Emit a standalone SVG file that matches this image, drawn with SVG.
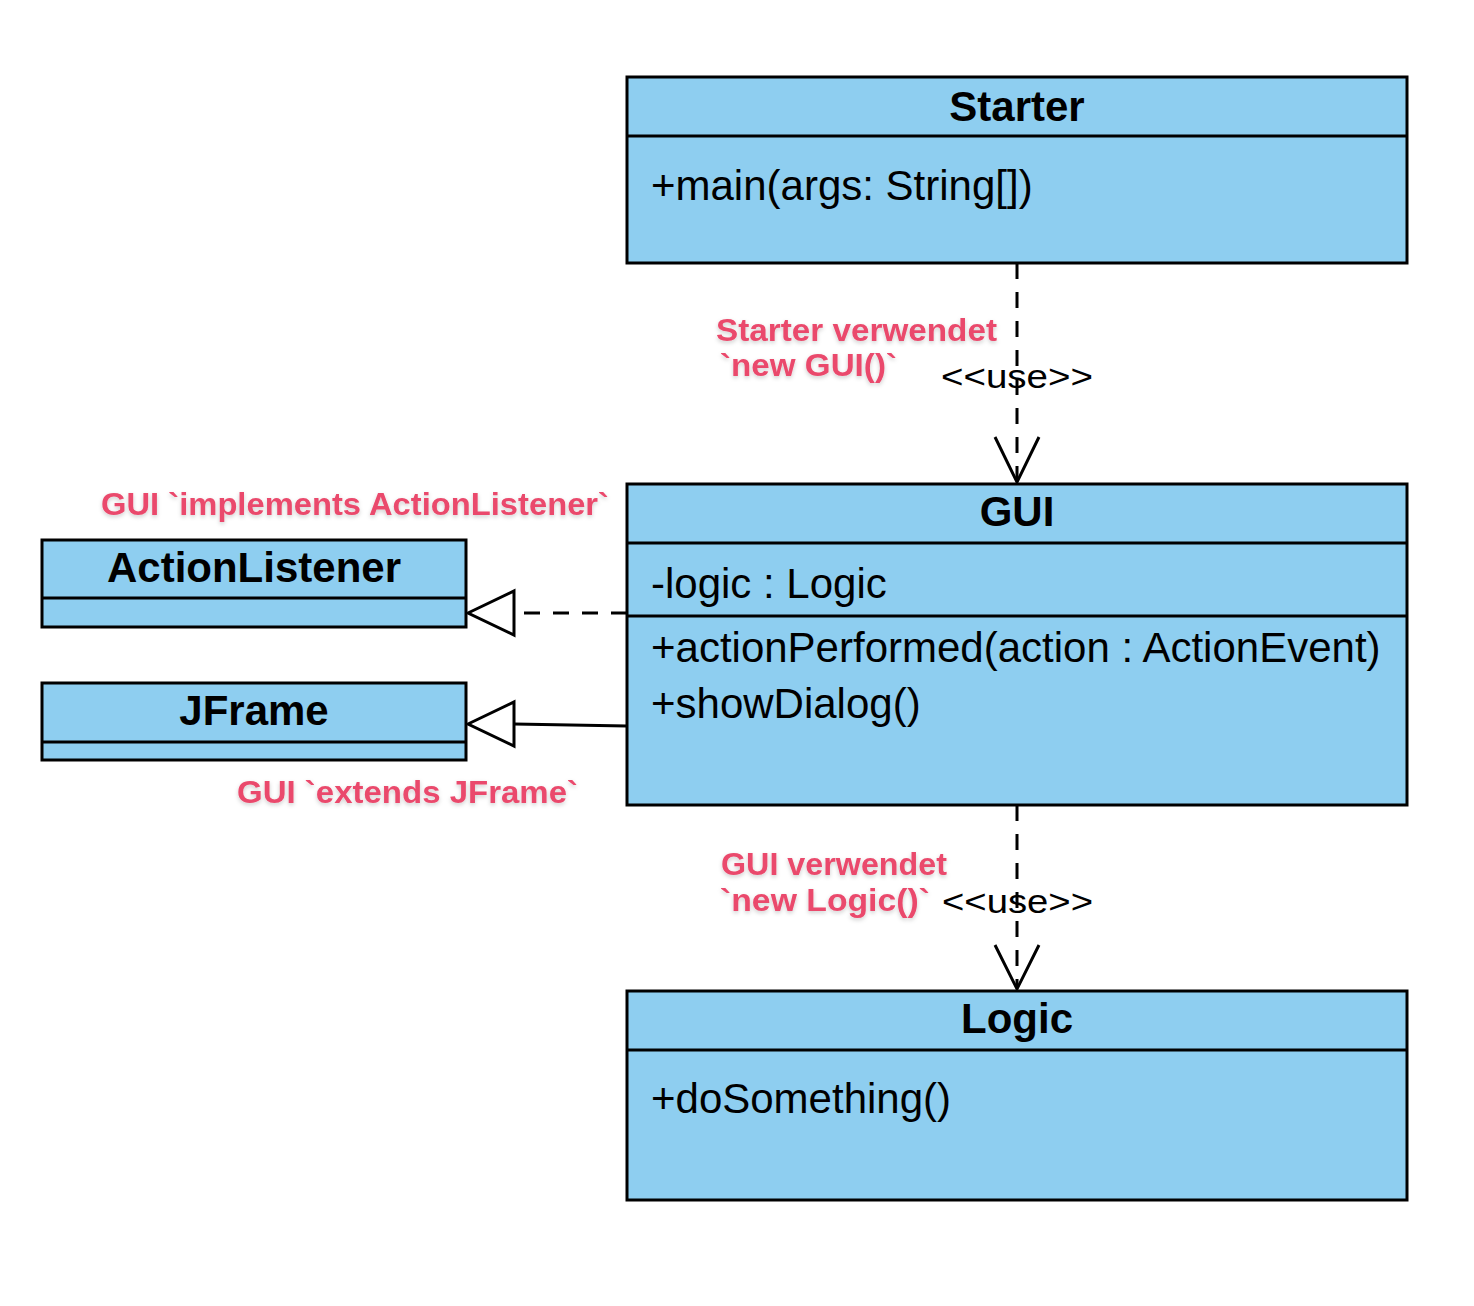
<svg xmlns="http://www.w3.org/2000/svg" width="1474" height="1306" viewBox="0 0 1474 1306">
<style>
.box{fill:#8ECEF0;stroke:#000;stroke-width:3}
.sep{stroke:#000;stroke-width:3}
.title{font-family:"Liberation Sans",Arial,sans-serif;font-weight:bold;font-size:42px;fill:#000;text-anchor:middle}
.member{font-family:"Liberation Sans",Arial,sans-serif;font-size:42px;fill:#000}
.stereo{font-family:"Liberation Sans",Arial,sans-serif;font-size:34px;fill:#000}
.note{font-family:"Liberation Sans",Arial,sans-serif;font-weight:bold;font-size:31px;fill:#EA4A6C;filter:url(#glow)}
.edge{fill:none;stroke:#000;stroke-width:3}
.dash{stroke-dasharray:16 13}
</style>
<defs>
<filter id="glow" x="-10%" y="-40%" width="120%" height="180%">
<feDropShadow dx="0" dy="2" stdDeviation="2" flood-color="#000" flood-opacity="0.2"/>
</filter>
</defs>
<rect width="1474" height="1306" fill="#fff"/>
<g id="connectors">
<path class="edge dash" d="M1017 263 L1017 480"/>
<path class="edge" d="M995 437 L1017 482 L1039 437"/>
<path class="edge dash" d="M1017 805 L1017 987"/>
<path class="edge" d="M995 945 L1017 989 L1039 945"/>
<path class="edge dash" d="M627 613 L514 613"/>
<path class="edge" d="M468 613 L514 591 L514 635 Z" fill="#fff"/>
<path class="edge" d="M627 726 L514 724"/>
<path class="edge" d="M468 724 L514 702 L514 746 Z" fill="#fff"/>
<text class="stereo" x="941" y="388" textLength="152" lengthAdjust="spacingAndGlyphs">&lt;&lt;use&gt;&gt;</text>
<text class="stereo" x="942" y="913" textLength="151" lengthAdjust="spacingAndGlyphs">&lt;&lt;use&gt;&gt;</text>
<text class="note" x="716" y="341" textLength="281" lengthAdjust="spacingAndGlyphs">Starter verwendet</text>
<text class="note" x="720" y="376" textLength="177" lengthAdjust="spacingAndGlyphs">`new GUI()`</text>
<text class="note" x="101" y="515" textLength="508" lengthAdjust="spacingAndGlyphs">GUI `implements ActionListener`</text>
<text class="note" x="237" y="803" textLength="341" lengthAdjust="spacingAndGlyphs">GUI `extends JFrame`</text>
<text class="note" x="721" y="875" textLength="226" lengthAdjust="spacingAndGlyphs">GUI verwendet</text>
<text class="note" x="720" y="911" textLength="210" lengthAdjust="spacingAndGlyphs">`new Logic()`</text>
</g>
<g id="Starter">
<rect class="box" x="627" y="77" width="780" height="186"/>
<line class="sep" x1="627" y1="136" x2="1407" y2="136"/>
<text class="title" x="1017" y="121">Starter</text>
<text class="member" x="651" y="200">+main(args: String[])</text>
</g>
<g id="GUI">
<rect class="box" x="627" y="484" width="780" height="321"/>
<line class="sep" x1="627" y1="543" x2="1407" y2="543"/>
<line class="sep" x1="627" y1="616" x2="1407" y2="616"/>
<text class="title" x="1017" y="526">GUI</text>
<text class="member" x="651" y="598">-logic : Logic</text>
<text class="member" x="651" y="662">+actionPerformed(action : ActionEvent)</text>
<text class="member" x="651" y="718">+showDialog()</text>
</g>
<g id="Logic">
<rect class="box" x="627" y="991" width="780" height="209"/>
<line class="sep" x1="627" y1="1050" x2="1407" y2="1050"/>
<text class="title" x="1017" y="1033">Logic</text>
<text class="member" x="651" y="1113">+doSomething()</text>
</g>
<g id="ActionListener">
<rect class="box" x="42" y="540" width="424" height="87"/>
<line class="sep" x1="42" y1="598" x2="466" y2="598"/>
<text class="title" x="254" y="582">ActionListener</text>
</g>
<g id="JFrame">
<rect class="box" x="42" y="683" width="424" height="77"/>
<line class="sep" x1="42" y1="742" x2="466" y2="742"/>
<text class="title" x="254" y="725">JFrame</text>
</g>
</svg>
